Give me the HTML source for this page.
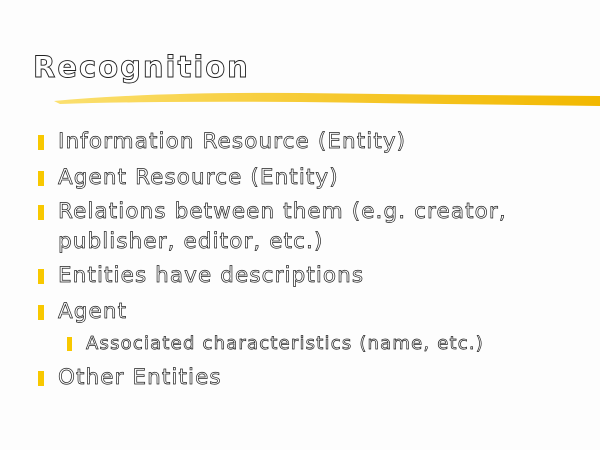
<!DOCTYPE html>
<html><head><meta charset="utf-8"><style>
html,body{margin:0;padding:0;width:600px;height:450px;overflow:hidden;background:#fdfdfd;}
.t{position:absolute;white-space:nowrap;font-family:"DejaVu Sans","Liberation Sans",sans-serif;color:#fff;-webkit-text-stroke:0.7px #222;font-size:21.5px;letter-spacing:1.1px;}
.b{position:absolute;background:#f8c800;}
</style></head><body>
<div class="t" style="left:33px;top:50px;font-size:29px;font-weight:bold;letter-spacing:2px;-webkit-text-stroke:0.9px #222;">Recognition</div>
<svg style="position:absolute;left:0;top:0" width="600" height="450">
<defs><linearGradient id="g" x1="0" x2="1"><stop offset="0" stop-color="#fbe070"/><stop offset="0.5" stop-color="#f6c930"/><stop offset="1" stop-color="#f2b800"/></linearGradient></defs>
<path d="M54,101 Q150,92 300,93 Q450,95 600,96 L600,106 Q450,104 300,102 Q150,101 60,104 Z" fill="url(#g)"/>
</svg>
<div class="b" style="left:38px;top:135px;width:6px;height:15px"></div>
<div class="t" style="left:58px;top:129px;">Information Resource (Entity)</div>
<div class="b" style="left:38px;top:171px;width:6px;height:15px"></div>
<div class="t" style="left:58px;top:165px;">Agent Resource (Entity)</div>
<div class="b" style="left:38px;top:205px;width:6px;height:15px"></div>
<div class="t" style="left:58px;top:199px;">Relations between them (e.g. creator,</div>
<div class="t" style="left:58px;top:229px;">publisher, editor, etc.)</div>
<div class="b" style="left:38px;top:269px;width:6px;height:15px"></div>
<div class="t" style="left:58px;top:263px;">Entities have descriptions</div>
<div class="b" style="left:38px;top:305px;width:6px;height:15px"></div>
<div class="t" style="left:58px;top:299px;">Agent</div>
<div class="b" style="left:67px;top:337px;width:5px;height:14px"></div>
<div class="t" style="left:86px;top:333px;font-size:18px;letter-spacing:1.2px;">Associated characteristics (name, etc.)</div>
<div class="b" style="left:38px;top:371px;width:6px;height:15px"></div>
<div class="t" style="left:58px;top:365px;">Other Entities</div>
</body></html>
